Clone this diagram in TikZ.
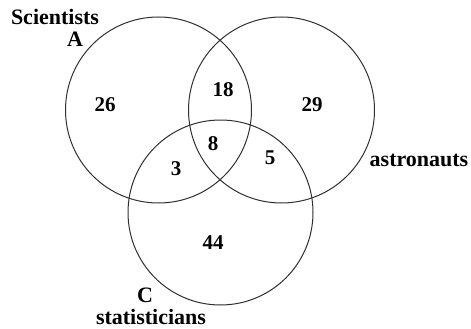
\documentclass[tikz,border=0pt]{standalone}
\usepackage{fontspec}
\setmainfont{Liberation Serif}
\usepackage{tikz}
\usetikzlibrary{positioning}
\definecolor{ringgray}{HTML}{303030}

\begin{document}
\begin{tikzpicture}[
  x=1pt, y=-1pt,
  ring/.style={circle, draw=ringgray, line width=1pt, minimum size=186pt, inner sep=0pt},
  num/.style={font=\fontsize{21}{23}\selectfont\bfseries, text=black},
  lbl/.style={font=\fontsize{22}{24}\selectfont\bfseries, text=black, inner sep=0pt},
]
  \useasboundingbox (0,0) rectangle (471,329);
  % Sets
  \node[ring] (sci) at (158.5,110) {};
  \node[ring] (ast) at (281.5,110) {};
  \node[ring, minimum size=185pt] (sta) at (220.5,212.5) {};
  % Region counts
  \node[num] (nA) at (105,105) {26};
  \node[num] (nAB) at (223,90) {18};
  \node[num] (nB) at (312,105) {29};
  \node[num] (nABC) at (213,144) {8};
  \node[num] (nAC) at (176,169) {3};
  \node[num] (nBC) at (270,158) {5};
  \node[num] (nC) at (213,243) {44};
  % Set names
  \node[lbl] (tsci) at (55,17) {Scientists};
  \node[lbl] (tA) at (75,39) {A};
  \node[lbl] (tast) at (419,160) {astronauts};
  \node[lbl] (tC) at (145,295) {C};
  \node[lbl] (tsta) at (151,317) {statisticians};
\end{tikzpicture}
\end{document}
